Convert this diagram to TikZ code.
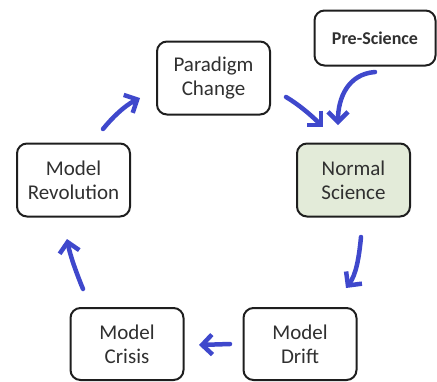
\documentclass[tikz,border=0pt]{standalone}
\usepackage{fontspec}
\setmainfont{Carlito}
\usetikzlibrary{arrows.meta}
\definecolor{txt}{HTML}{303030}
\definecolor{bord}{HTML}{1E1E1E}
\definecolor{arr}{HTML}{3F48CC}
\definecolor{green}{HTML}{E3EBD9}
\tikzset{
  box/.style={draw=bord, line width=2pt, rounded corners=10pt, fill=white,
    minimum width=113pt, minimum height=73pt, align=center, text=txt,
    font=\fontsize{21}{24}\selectfont, inner sep=0pt},
  flow/.style={draw=arr, line width=4.5pt, line cap=round,
    -{Straight Barb[length=10pt, width=20pt, line width=4.5pt]}}
}
\begin{document}
\begin{tikzpicture}[x=1pt, y=-1pt]
\useasboundingbox (0,0) rectangle (437,381);
\node[box] (par) at (213.5,78) {Paradigm\\Change};
\node[box, minimum width=121pt, minimum height=55pt, font=\fontsize{18}{21}\selectfont\bfseries] (pre) at (375,38) {Pre-Science};
\node[box] (rev) at (73.5,180) {Model\\Revolution};
\node[box, fill=green] (nor) at (353.5,180) {Normal\\Science};
\node[box, minimum height=72pt] (cri) at (127,344) {Model\\Crisis};
\node[box, minimum height=72pt] (dri) at (300,344) {Model\\Drift};
\coordinate (a1) at (103,129); \coordinate (b1) at (140,98);
\coordinate (a2) at (286,97); \coordinate (b2) at (323,127);
\coordinate (a3) at (375,72); \coordinate (b3) at (338,125);
\coordinate (a4) at (361,237); \coordinate (b4) at (346,288);
\coordinate (a5) at (230,344); \coordinate (b5) at (199,345);
\coordinate (a6) at (83,289); \coordinate (b6) at (67,239);
\draw[flow] (a1) .. controls (112,118) and (124,106) .. (b1);
\draw[flow] (a2) .. controls (298,104) and (311,115) .. (b2);
\draw[flow] (a3) .. controls (348,74) and (338,98) .. (b3);
\draw[flow] (a4) .. controls (359,258) and (356,275) .. (b4);
\draw[flow] (a5) -- (b5);
\draw[flow] (a6) .. controls (76,272) and (70,255) .. (b6);
\end{tikzpicture}
\end{document}
